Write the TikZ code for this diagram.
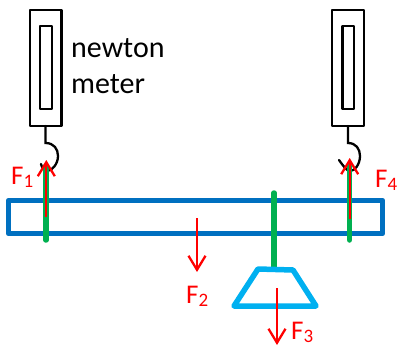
\documentclass[tikz,border=0pt]{standalone}
\usepackage{fontspec}
\setmainfont{Carlito}
\usetikzlibrary{arrows.meta}
\definecolor{beamblue}{HTML}{0070C0}
\definecolor{panblue}{HTML}{00B0F0}
\definecolor{rodgreen}{HTML}{00B050}
\definecolor{forcered}{HTML}{FF0000}
\tikzset{
  x=1pt,y=-1pt,
  meterbox/.style={draw=black,line width=2.3pt,line join=round,fill=white},
  hookline/.style={draw=black,line width=2.3pt,line cap=round},
  rod/.style={draw=rodgreen,line width=5.5pt,line cap=round},
  force/.style={draw=forcered,line width=2.3pt,-{Straight Barb[length=14pt,width=17pt,line width=2.3pt]}},
  beam/.style={draw=beamblue,line width=5.5pt,line join=round},
  pan/.style={draw=panblue,line width=5.5pt,line join=round},
  flabel/.style={text=forcered,font=\fontsize{27}{27}\selectfont,inner sep=0pt,anchor=base west},
  note/.style={text=black,font=\fontsize{30}{30}\selectfont,inner sep=0pt,anchor=base west}
}
\newcommand{\Fsub}[1]{F\raisebox{-3.5pt}{\fontsize{19}{19}\selectfont #1}}
\begin{document}
\begin{tikzpicture}
\useasboundingbox (0,0) rectangle (397,348);
% newton meters
\draw[meterbox] (30,10) rectangle (61.5,126);
\draw[meterbox] (40,26) rectangle (52,109);
\draw[meterbox] (332,10) rectangle (364,126);
\draw[meterbox] (342.5,26) rectangle (354,109);
\draw[hookline] (45.5,126) -- (45.5,143) .. controls (54,143) and (58,149) .. (58,156) .. controls (58,164) and (52,171) .. (47,171) .. controls (44,171) and (42,168) .. (41,164);
\draw[hookline] (348,126) -- (348,143) .. controls (356,143) and (360,149) .. (360,156) .. controls (360,164) and (355,171) .. (350,171) .. controls (347,171) and (344,167) .. (339,160);
% beam
\draw[beam] (8.5,200.5) rectangle (382.5,233.5);
% green rods
\coordinate (r1t) at (46,166); \coordinate (r1b) at (46,240);
\coordinate (r3t) at (274,193); \coordinate (r3b) at (274,268);
\coordinate (r4t) at (349.5,166); \coordinate (r4b) at (349.5,240);
\draw[rod] (r1t) -- (r1b);
\draw[rod] (r3t) -- (r3b);
\draw[rod] (r4t) -- (r4b);
% pan
\draw[pan] (258,269) -- (293,270) -- (316,306) -- (234,306) -- cycle;
% forces
\coordinate (f1a) at (46.3,217); \coordinate (f1b) at (46.3,160);
\coordinate (f2a) at (197,218); \coordinate (f2b) at (197,272);
\coordinate (f3a) at (277,288); \coordinate (f3b) at (277,345);
\coordinate (f4a) at (349.7,219); \coordinate (f4b) at (349.7,158);
\draw[force] (f1a) -- (f1b);
\draw[force] (f2a) -- (f2b);
\draw[force] (f3a) -- (f3b);
\draw[force] (f4a) -- (f4b);
% labels
\node[note] (n1) at (71,57) {newton};
\node[note] (n2) at (71,93) {meter};
\node[flabel] (l1) at (11,184) {\Fsub{1}};
\node[flabel] (l2) at (186,303) {\Fsub{2}};
\node[flabel] (l3) at (291,339) {\Fsub{3}};
\node[flabel] (l4) at (375,187) {\Fsub{4}};
\end{tikzpicture}
\end{document}
